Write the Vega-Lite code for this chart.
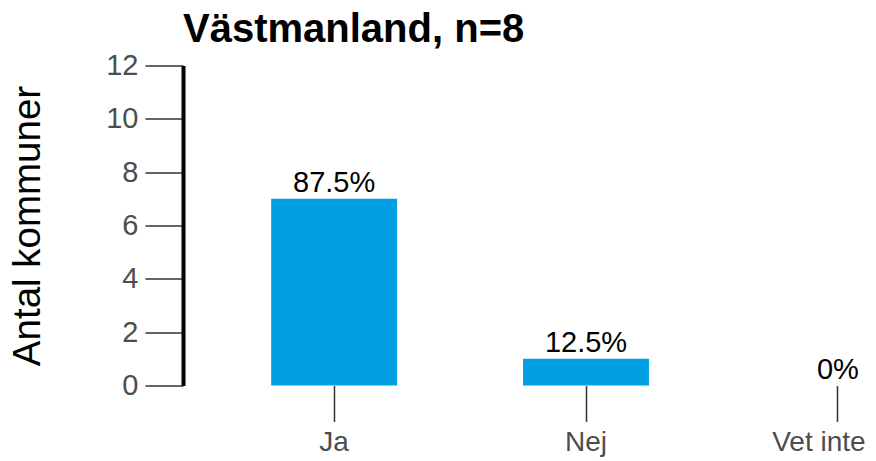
{
  "$schema": "https://vega.github.io/schema/vega-lite/v6.json",
  "width": 806,
  "height": 320,
  "padding": {"left": 8, "top": 9.5, "right": 0, "bottom": 0},
  "background": "white",
  "title": {
    "text": "Västmanland, n=8",
    "anchor": "start",
    "frame": "group",
    "font": "Liberation Sans",
    "fontSize": 40,
    "fontWeight": "bold",
    "color": "black",
    "offset": 2
  },
  "config": {"view": {"stroke": null}},
  "data": {
    "values": [
      {"svar": "Ja", "antal": 7, "label": "87.5%"},
      {"svar": "Nej", "antal": 1, "label": "12.5%"},
      {"svar": "Vet inte", "antal": 0, "label": "0%"}
    ]
  },
  "encoding": {
    "x": {
      "field": "svar",
      "type": "nominal",
      "sort": ["Ja", "Nej", "Vet inte"],
      "scale": {"paddingInner": 0.5, "paddingOuter": 0.35},
      "axis": {
        "title": null,
        "labelAngle": 0,
        "domain": false,
        "ticks": true,
        "tickSize": 36,
        "tickColor": "#333333",
        "tickWidth": 1.5,
        "labelFont": "Liberation Sans",
        "labelFontSize": 28,
        "labelColor": "#4d4d4d",
        "labelPadding": 7,
        "labelOffset": {"condition": {"test": "datum.value === 'Vet inte'", "value": -19}, "value": 0},
        "grid": false
      }
    },
    "y": {
      "field": "antal",
      "type": "quantitative",
      "scale": {"domain": [0, 12], "nice": false},
      "axis": {
        "title": "Antal kommuner",
        "titleFont": "Liberation Sans",
        "titleFontSize": 38.5,
        "titleFontWeight": "normal",
        "titleColor": "black",
        "titlePadding": 58.5,
        "values": [0, 2, 4, 6, 8, 10, 12],
        "domain": true,
        "domainColor": "black",
        "domainWidth": 4,
        "ticks": true,
        "tickSize": 38,
        "tickColor": "#333333",
        "tickWidth": 1.5,
        "labelFont": "Liberation Sans",
        "labelFontSize": 29,
        "labelColor": "#4d4d4d",
        "labelPadding": 7,
        "grid": false
      }
    }
  },
  "layer": [
    {
      "mark": {"type": "bar", "color": "#009FE3"}
    },
    {
      "mark": {
        "type": "text",
        "baseline": "alphabetic",
        "dy": -7,
        "font": "Liberation Sans",
        "fontSize": 29,
        "color": "black"
      },
      "encoding": {"text": {"field": "label"}}
    }
  ]
}
